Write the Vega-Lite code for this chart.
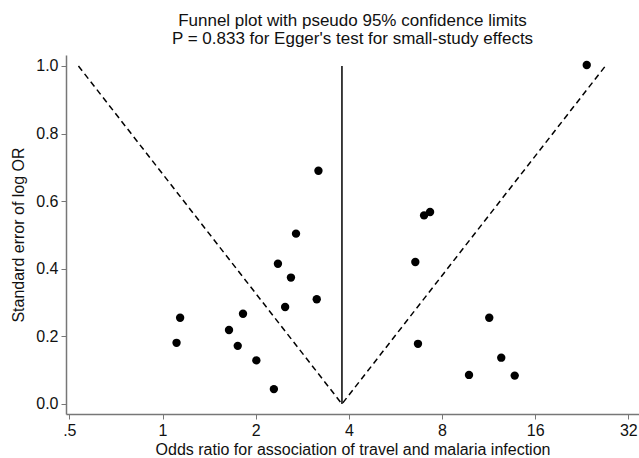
{
  "$schema": "https://vega.github.io/schema/vega-lite/v6.json",
  "autosize": {"type": "none"},
  "padding": {"left": 66, "top": 55, "right": 0, "bottom": 44},
  "width": 573,
  "height": 359,
  "background": "white",
  "title": {
    "text": ["Funnel plot with pseudo 95% confidence limits", "P = 0.833 for Egger's test for small-study effects"],
    "font": "Liberation Sans",
    "fontSize": 17,
    "fontWeight": "normal",
    "lineHeight": 18,
    "color": "#111",
    "anchor": "middle",
    "offset": 7
  },
  "config": {
    "view": {"stroke": null},
    "font": "Liberation Sans"
  },
  "datasets": {
    "studies": [
      {"or": 3.19, "se": 0.690},
      {"or": 2.70, "se": 0.504},
      {"or": 2.36, "se": 0.415},
      {"or": 2.60, "se": 0.374},
      {"or": 3.15, "se": 0.310},
      {"or": 2.49, "se": 0.287},
      {"or": 1.82, "se": 0.267},
      {"or": 1.14, "se": 0.255},
      {"or": 1.64, "se": 0.219},
      {"or": 1.11, "se": 0.181},
      {"or": 1.75, "se": 0.172},
      {"or": 2.01, "se": 0.129},
      {"or": 2.29, "se": 0.044},
      {"or": 7.32, "se": 0.568},
      {"or": 7.00, "se": 0.558},
      {"or": 6.56, "se": 0.420},
      {"or": 11.37, "se": 0.255},
      {"or": 6.69, "se": 0.178},
      {"or": 12.43, "se": 0.137},
      {"or": 9.78, "se": 0.086},
      {"or": 13.74, "se": 0.084},
      {"or": 23.48, "se": 1.003}
    ],
    "funnel": [
      {"or": 0.535, "se": 1.0, "ord": 1},
      {"or": 3.80, "se": 0.0, "ord": 2},
      {"or": 26.98, "se": 1.0, "ord": 3}
    ],
    "pooled": [
      {"or": 3.80, "se0": 0.0, "se1": 1.0}
    ]
  },
  "layer": [
    {
      "data": {"name": "funnel"},
      "mark": {"type": "line", "color": "black", "strokeWidth": 1.5, "strokeDash": [6, 4]},
      "encoding": {
        "x": {
          "field": "or", "type": "quantitative",
          "scale": {"type": "log", "base": 2, "domain": [0.4877, 34.64], "nice": false, "zero": false},
          "axis": {
            "title": "Odds ratio for association of travel and malaria infection",
            "values": [0.5, 1, 2, 4, 8, 16, 32],
            "labelExpr": "datum.value == 0.5 ? '.5' : format(datum.value, 'd')",
            "grid": false,
            "domainColor": "#777",
            "domainWidth": 1.5,
            "tickColor": "#777",
            "tickSize": 5,
            "labelFontSize": 16,
            "labelColor": "#111",
            "labelPadding": 3,
            "labelFlush": false,
            "titleFontSize": 16,
            "titleFontWeight": "normal",
            "titleColor": "#111",
            "titlePadding": 3
          }
        },
        "y": {
          "field": "se", "type": "quantitative",
          "scale": {"domain": [-0.0296, 1.0325], "nice": false, "zero": false},
          "axis": {
            "title": "Standard error of log OR",
            "values": [0, 0.2, 0.4, 0.6, 0.8, 1.0],
            "format": ".1f",
            "grid": false,
            "domainColor": "#777",
            "domainWidth": 1.5,
            "tickColor": "#777",
            "tickSize": 5,
            "labelFontSize": 16,
            "labelColor": "#111",
            "labelPadding": 3,
            "labelFlush": false,
            "titleFontSize": 16,
            "titleFontWeight": "normal",
            "titleColor": "#111",
            "titlePadding": 9
          }
        },
        "order": {"field": "ord", "type": "quantitative"}
      }
    },
    {
      "data": {"name": "pooled"},
      "mark": {"type": "rule", "color": "black", "strokeWidth": 1.5},
      "encoding": {
        "x": {"field": "or", "type": "quantitative"},
        "y": {"field": "se0", "type": "quantitative"},
        "y2": {"field": "se1"}
      }
    },
    {
      "data": {"name": "studies"},
      "mark": {"type": "point", "filled": true, "color": "black", "opacity": 1, "size": 70},
      "encoding": {
        "x": {"field": "or", "type": "quantitative"},
        "y": {"field": "se", "type": "quantitative"}
      }
    }
  ]
}
